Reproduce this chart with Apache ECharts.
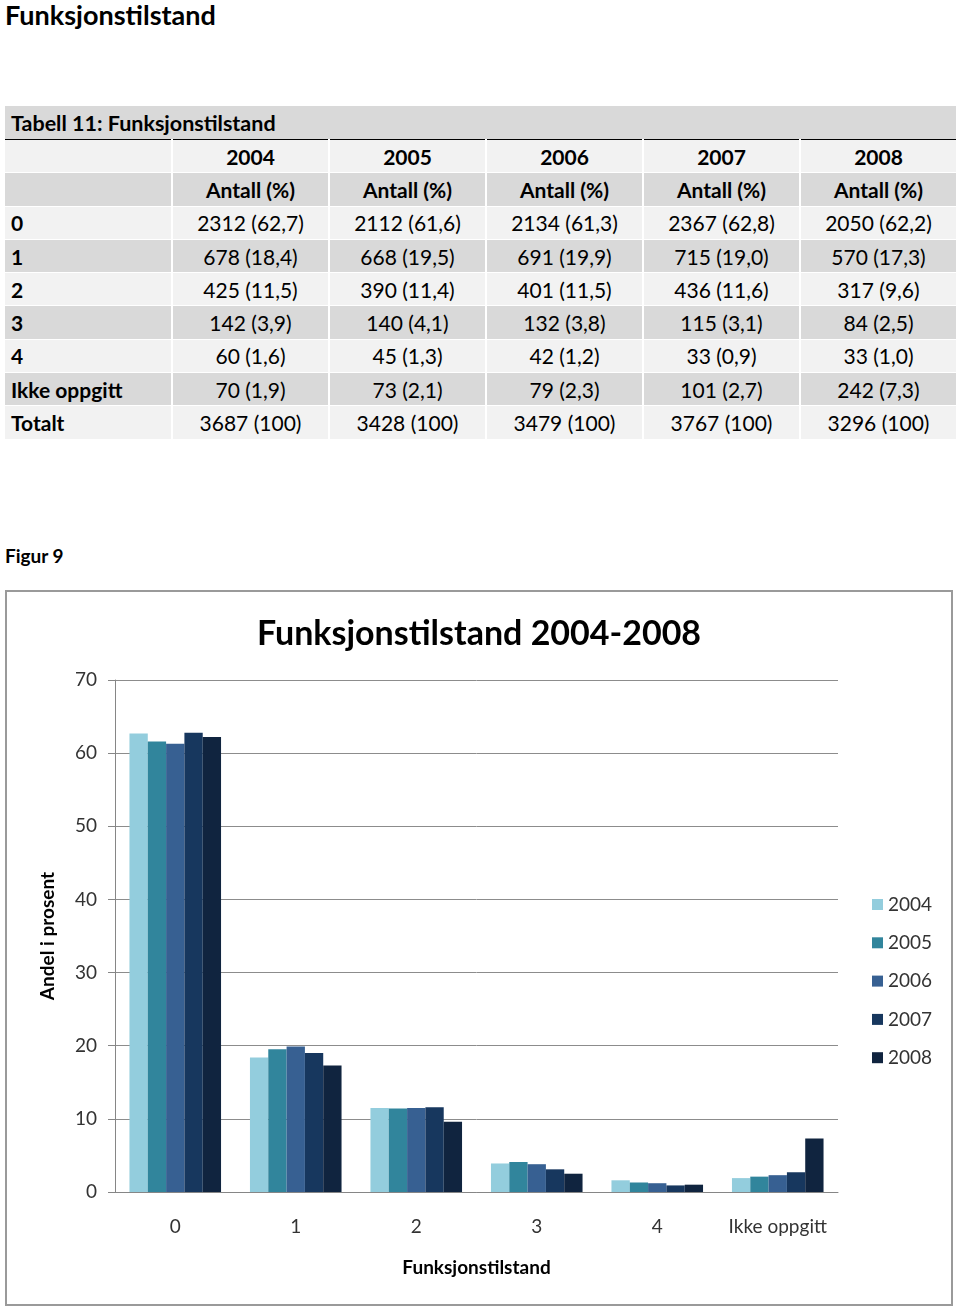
<!DOCTYPE html>
<html>
<head>
<meta charset="utf-8">
<script src="https://cdn.jsdelivr.net/npm/echarts@6/dist/echarts.min.js"></script>
<style>
  html, body { margin: 0; padding: 0; background: #fff; }
  body { width: 960px; height: 1307px; position: relative; font-family: Lato, "Open Sans", sans-serif; color: #000; }
  #pageTitle { position: absolute; left: 5px; top: 0px; font-size: 27px; font-weight: bold; line-height: 30px; }
  #figLabel { position: absolute; left: 5px; top: 544px; font-size: 19px; font-weight: bold; line-height: 24px; }
  #tbl { position: absolute; left: 5px; top: 106px; width: 953px; border-collapse: collapse; table-layout: fixed; font-size: 21px; }
  #tbl td { height: 32.3px; padding: 0; border-right: 2px solid #fff; border-bottom: 1px solid #fff; text-align: center; white-space: nowrap; }
  #tbl td.first { text-align: left; padding-left: 6px; font-weight: bold; }
  #tbl tr.caption td { background: #d9d9d9; font-weight: bold; text-align: left; padding-left: 6px; padding-top: 1px; border-bottom: 1px solid #000; height: 32px; font-size: 21.5px; }
  #tbl tr.light td { background: #f2f2f2; }
  #tbl tr.dark td { background: #d9d9d9; }
  #tbl tr.head td { font-weight: bold; }
  #frame { position: absolute; left: 5px; top: 590px; width: 948px; height: 716px; box-sizing: border-box; border: 2px solid #9a9a9a; }
  #chart { width: 944px; height: 712px; }
</style>
</head>
<body>
<div id="pageTitle">Funksjonstilstand</div>
<table id="tbl"></table>
<div id="figLabel">Figur 9</div>
<div id="frame"><div id="chart"></div></div>
<script>
const categories = ['0', '1', '2', '3', '4', 'Ikke oppgitt'];
const years = ['2004', '2005', '2006', '2007', '2008'];
const counts2004 = [2312, 678, 425, 142, 60, 70];
const counts2005 = [2112, 668, 390, 140, 45, 73];
const counts2006 = [2134, 691, 401, 132, 42, 79];
const counts2007 = [2367, 715, 436, 115, 33, 101];
const counts2008 = [2050, 570, 317, 84, 33, 242];
const pct2004 = [62.7, 18.4, 11.5, 3.9, 1.6, 1.9];
const pct2005 = [61.6, 19.5, 11.4, 4.1, 1.3, 2.1];
const pct2006 = [61.3, 19.9, 11.5, 3.8, 1.2, 2.3];
const pct2007 = [62.8, 19.0, 11.6, 3.1, 0.9, 2.7];
const pct2008 = [62.2, 17.3, 9.6, 2.5, 1.0, 7.3];
const totals = [3687, 3428, 3479, 3767, 3296];
const yTicks = [0, 10, 20, 30, 40, 50, 60, 70];
const colors = ['#93cddd', '#31859c', '#376092', '#17375e', '#10243f'];

const counts = [counts2004, counts2005, counts2006, counts2007, counts2008];
const pcts = [pct2004, pct2005, pct2006, pct2007, pct2008];

// Build table
const tbl = document.getElementById('tbl');
let html = '<colgroup><col style="width:167px">' + years.map(() => '<col style="width:157px">').join('') + '</colgroup>';
html += '<tr class="caption"><td colspan="6">Tabell 11: Funksjonstilstand</td></tr>';
html += '<tr class="light head"><td class="first"></td>' + years.map(y => '<td>' + y + '</td>').join('') + '</tr>';
html += '<tr class="dark head"><td class="first"></td>' + years.map(() => '<td>Antall (%)</td>').join('') + '</tr>';
const fmt = v => v.toFixed(1).replace('.', ',');
categories.forEach((c, i) => {
  const cls = (i % 2 === 0) ? 'light' : 'dark';
  html += '<tr class="' + cls + '"><td class="first">' + c + '</td>' +
    years.map((y, j) => '<td>' + counts[j][i] + ' (' + fmt(pcts[j][i]) + ')</td>').join('') + '</tr>';
});
html += '<tr class="light"><td class="first">Totalt</td>' + totals.map(t => '<td>' + t + ' (100)</td>').join('') + '</tr>';
tbl.innerHTML = html;

// Chart
const chart = echarts.init(document.getElementById('chart'), null, { renderer: 'canvas' });
const font = 'Lato, "Open Sans", sans-serif';
chart.setOption({
  animation: false,
  color: colors,
  textStyle: { fontFamily: font },
  title: {
    text: 'Funksjonstilstand 2004-2008',
    left: 'center',
    top: 20,
    textStyle: { fontSize: 34, fontWeight: 'bold', color: '#000', fontFamily: font }
  },
  legend: {
    orient: 'vertical',
    left: 860,
    top: 298,
    itemWidth: 11,
    itemHeight: 11,
    itemGap: 19.3,
    icon: 'rect',
    textStyle: { fontSize: 19, color: '#333', fontFamily: font },
    data: years
  },
  grid: { left: 108, right: 113, top: 88, bottom: 112, containLabel: false },
  xAxis: {
    type: 'category',
    data: categories,
    name: 'Funksjonstilstand',
    nameLocation: 'middle',
    nameGap: 66,
    nameTextStyle: { fontSize: 19, fontWeight: 'bold', color: '#000', fontFamily: font },
    axisLine: { lineStyle: { color: '#868686', width: 1 } },
    axisTick: { show: false },
    axisLabel: { fontSize: 19, color: '#333', margin: 25, interval: 0, fontFamily: font }
  },
  yAxis: {
    type: 'value',
    min: 0,
    max: 70,
    interval: 10,
    name: 'Andel i prosent',
    nameLocation: 'middle',
    nameGap: 58,
    nameTextStyle: { fontSize: 19, fontWeight: 'bold', color: '#000', fontFamily: font },
    axisLine: { show: true, lineStyle: { color: '#868686', width: 1 } },
    axisTick: { show: true, length: 7, lineStyle: { color: '#868686' } },
    axisLabel: { fontSize: 19, color: '#333', margin: 18, fontFamily: font,
      formatter: v => yTicks.includes(v) ? String(v) : '' },
    splitLine: { show: true, lineStyle: { color: '#8c8c8c', width: 1 } }
  },
  series: years.map((y, j) => ({
    name: y,
    type: 'bar',
    data: pcts[j],
    barGap: '0%',
    barCategoryGap: '24%',
    itemStyle: { color: colors[j] }
  }))
});
</script>
</body>
</html>
